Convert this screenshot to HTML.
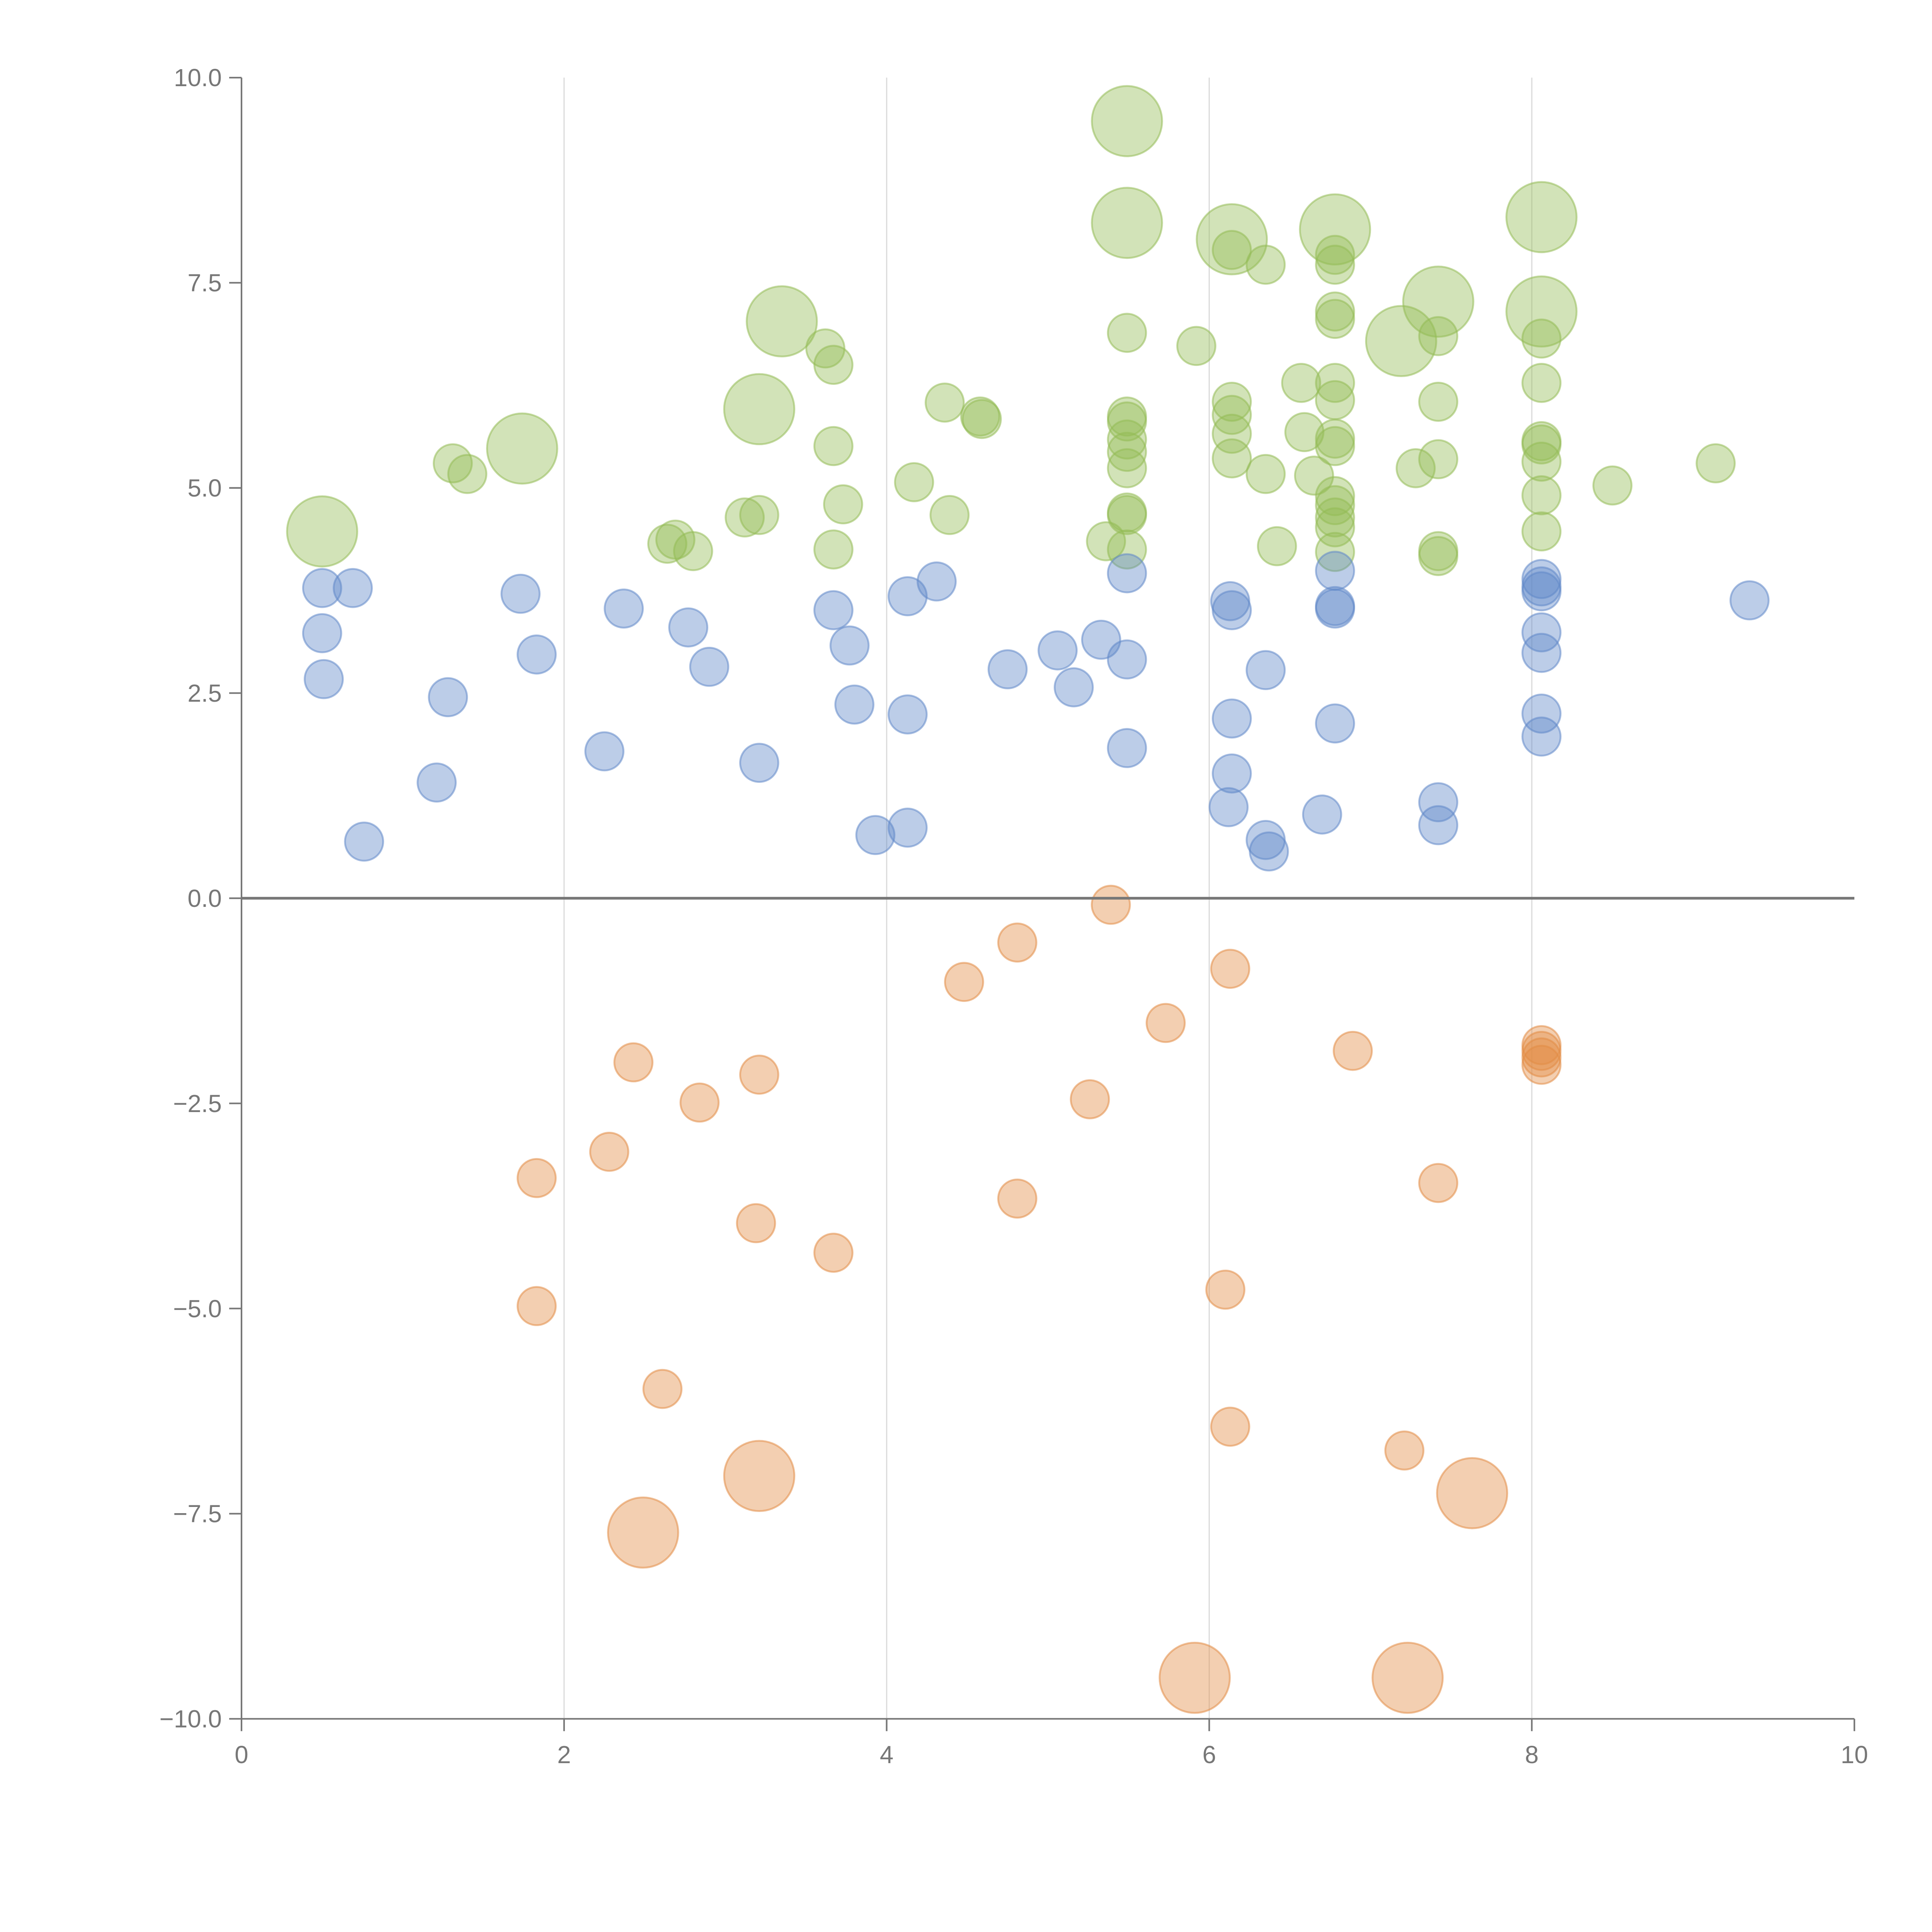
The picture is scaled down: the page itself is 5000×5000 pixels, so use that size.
<!DOCTYPE html>
<html><head><meta charset="utf-8"><style>
html,body{margin:0;padding:0;background:#fff}
svg{display:block}
text{font-family:"Liberation Sans",sans-serif;fill:#777}
</style></head><body>
<svg id="chart" width="5000" height="5000" viewBox="0 0 1568 1568" xmlns="http://www.w3.org/2000/svg">
<g id="grid"></g>
<g id="marks"></g>
<g id="axes"></g>
</svg>
<script>
const xTicks = [0, 2, 4, 6, 8, 10];
const yTicks = [-10, -7.5, -5, -2.5, 0, 2.5, 5, 7.5, 10];
const xTickLabels = ["0","2","4","6","8","10"];
const yTickLabels = ["\u221210.0","\u22127.5","\u22125.0","\u22122.5","0.0","2.5","5.0","7.5","10.0"];

const greenX = [0.5,1.31,1.4,1.74,2.64,2.69,2.8,3.12,3.21,3.21,3.35,3.62,3.67,3.67,3.67,3.73,4.17,4.36,4.39,4.58,4.59,5.36,5.49,5.49,5.49,5.49,5.49,5.49,5.49,5.49,5.49,5.49,5.49,5.92,6.14,6.14,6.35,6.14,6.14,6.14,6.14,6.35,6.42,6.57,6.59,6.65,6.78,6.78,6.78,6.78,6.78,6.78,6.78,6.78,6.78,6.78,6.78,6.78,6.78,6.78,7.19,7.28,7.42,7.42,7.42,7.42,7.42,7.42,8.06,8.06,8.06,8.06,8.06,8.06,8.06,8.06,8.06,8.5,9.14];
const greenY = [4.47,5.3,5.17,5.48,4.32,4.37,4.23,4.64,4.67,5.96,7.03,6.7,6.5,5.51,4.25,4.8,5.07,6.04,4.67,5.87,5.84,4.35,9.47,8.23,6.89,5.87,5.81,5.59,5.44,5.24,4.7,4.67,4.25,6.73,8.03,7.9,7.72,6.05,5.89,5.66,5.36,5.17,4.29,6.28,5.68,5.15,8.15,7.84,7.72,7.15,7.06,6.28,6.07,5.6,5.51,4.9,4.79,4.64,4.52,4.22,6.79,5.24,7.27,6.85,6.05,5.35,4.23,4.17,8.3,7.15,6.82,6.28,5.57,5.53,5.32,4.91,4.47,5.03,5.3];
const greenSize = [2,1,1,2,1,1,1,1,1,2,2,1,1,1,1,1,1,1,1,1,1,1,2,2,1,1,1,1,1,1,1,1,1,1,2,1,1,1,1,1,1,1,1,1,1,1,2,1,1,1,1,1,1,1,1,1,1,1,1,1,2,1,2,1,1,1,1,1,2,2,1,1,1,1,1,1,1,1,1];

const blueX = [0.5,0.69,0.5,0.51,0.76,1.21,1.28,1.73,1.83,2.25,2.37,2.77,2.9,3.21,3.67,3.77,3.8,3.93,4.13,4.13,4.13,4.31,4.75,5.06,5.16,5.33,5.49,5.49,5.49,6.13,6.14,6.14,6.14,6.12,6.35,6.35,6.37,6.7,6.78,6.78,6.78,6.78,7.42,7.42,8.06,8.06,8.06,8.06,8.06,8.06,8.06,9.35];
const blueY = [3.78,3.78,3.23,2.67,0.69,1.41,2.45,3.71,2.97,1.79,3.53,3.3,2.82,1.65,3.51,3.08,2.36,0.77,3.68,2.24,0.86,3.86,2.79,3.02,2.57,3.15,3.96,2.91,1.83,3.62,3.51,2.19,1.52,1.11,2.78,0.71,0.57,1.02,3.99,3.56,3.53,2.13,1.17,0.89,3.89,3.8,3.74,3.24,2.99,2.25,1.97,3.63];

const orangeX = [5.39,4.81,4.48,6.13,5.73,6.89,8.06,8.06,8.06,8.06,2.43,3.21,2.84,5.26,2.28,1.83,3.19,3.67,4.81,7.42,6.1,1.83,2.61,6.13,7.21,3.21,2.49,7.63,5.91,7.23];
const orangeY = [-0.08,-0.54,-1.02,-0.86,-1.52,-1.86,-1.79,-1.86,-1.94,-2.03,-2.0,-2.15,-2.49,-2.45,-3.09,-3.41,-3.96,-4.32,-3.66,-3.47,-4.77,-4.97,-5.98,-6.44,-6.73,-7.04,-7.73,-7.25,-9.5,-9.5];
const orangeSize = [1,1,1,1,1,1,1,1,1,1,1,1,1,1,1,1,1,1,1,1,1,1,1,1,1,2,2,2,2,2];

const NS = "http://www.w3.org/2000/svg";
const X0 = 196, X1 = 1505, Y0 = 1395, Y1 = 63;
function sx(v){ return X0 + (v - 0) / 10 * (X1 - X0); }
function sy(v){ return Y0 - (v + 10) / 20 * (Y0 - Y1); }
function rad(s){ return s === 2 ? 28.5 : 15.5; }
function mk(tag, attrs, parent){
  const e = document.createElementNS(NS, tag);
  for (const k in attrs) e.setAttribute(k, attrs[k]);
  parent.appendChild(e);
  return e;
}
const grid = document.getElementById('grid');
const marks = document.getElementById('marks');
const axes = document.getElementById('axes');

[2,4,6,8].forEach(v => {
  const l = mk('line', {x1: sx(v), x2: sx(v), y1: Y1, y2: Y0, stroke: '#dcdcdc', 'stroke-width': 1}, grid);
  
  
});

function drawSeries(xs, ys, sizes, color, name){
  xs.forEach((x, i) => {
    const c = mk('circle', {cx: sx(x), cy: sy(ys[i]), r: rad(sizes ? sizes[i] : 1), fill: color, 'fill-opacity': 0.42, stroke: color, 'stroke-opacity': 0.55, 'stroke-width': 1.5}, marks);
    
    
  });
}
drawSeries(greenX, greenY, greenSize, 'rgb(148,188,86)', 'green-bubble');
drawSeries(blueX, blueY, null, 'rgb(96,137,200)', 'blue-bubble');
drawSeries(orangeX, orangeY, orangeSize, 'rgb(226,140,70)', 'orange-bubble');

const z = mk('line', {x1: X0, x2: X1, y1: sy(0), y2: sy(0), stroke: '#777', 'stroke-width': 2.2}, axes);


const ya = mk('line', {x1: X0, x2: X0, y1: Y1, y2: Y0, stroke: '#777', 'stroke-width': 1.3}, axes);


const xa = mk('line', {x1: X0, x2: X1, y1: Y0, y2: Y0, stroke: '#777', 'stroke-width': 1.3}, axes);



yTicks.forEach((v, i) => {
  const t = mk('line', {x1: X0 - 10, x2: X0, y1: sy(v), y2: sy(v), stroke: '#777', 'stroke-width': 1.3}, axes);
  
  
  const tx = mk('text', {x: X0 - 16, y: sy(v) + 7, 'text-anchor': 'end', 'font-size': 20}, axes);
  tx.textContent = yTickLabels[i];
  
  
});
xTicks.forEach((v, i) => {
  const t = mk('line', {x1: sx(v), x2: sx(v), y1: Y0, y2: Y0 + 10, stroke: '#777', 'stroke-width': 1.3}, axes);
  
  
  const tx = mk('text', {x: sx(v), y: Y0 + 36, 'text-anchor': 'middle', 'font-size': 20}, axes);
  tx.textContent = xTickLabels[i];
  
  
});
</script>
</body></html>
